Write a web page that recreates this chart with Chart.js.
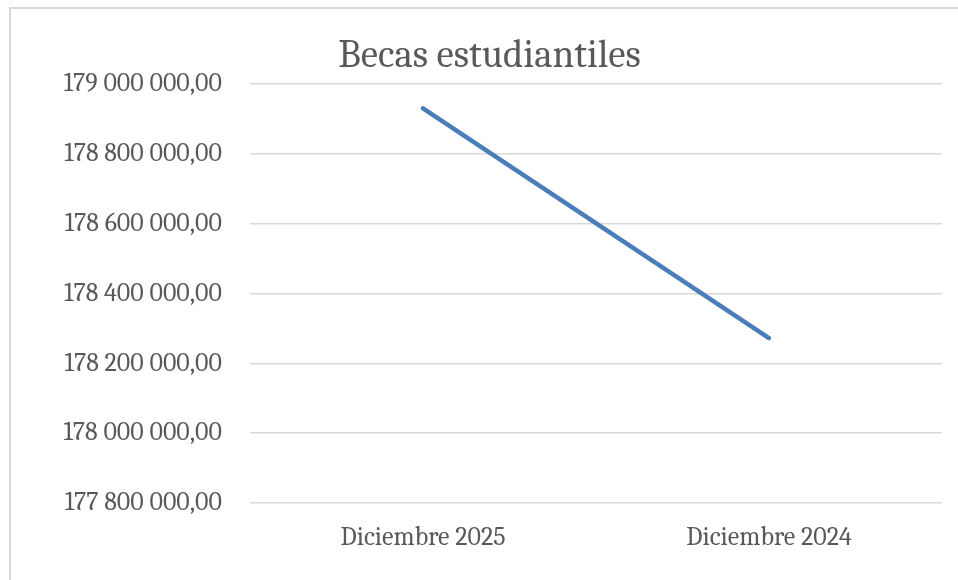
<!DOCTYPE html>
<html>
<head>
<meta charset="utf-8">
<script src="https://cdn.jsdelivr.net/npm/chart.js@4.4.1/dist/chart.umd.min.js"></script>
<style>
  html, body { margin: 0; padding: 0; background: #fff; overflow: hidden; }
  #marco { position: absolute; left: 9px; top: 7px; width: 1000px; height: 640px; border: 2px solid #d9d9d9; }
  #caja { position: absolute; left: 0; top: 0; width: 958px; height: 580px; }
</style>
</head>
<body>
<div id="marco"></div>
<div id="caja"><canvas id="grafica-becas"></canvas></div>
<script>
// Datos de la grafica
const meses = ['Diciembre 2025', 'Diciembre 2024'];
const montos = [178930000, 178272000];
const ticksY = [177800000, 178000000, 178200000, 178400000, 178600000, 178800000, 179000000];

// formato 179 000 000,00
function formatoMonto(v) {
  const partes = Number(v).toFixed(2).split('.');
  return partes[0].replace(/\B(?=(\d{3})+(?!\d))/g, ' ') + ',' + partes[1];
}

const fuente = "Cambria, serif";
const ctx = document.getElementById('grafica-becas').getContext('2d');

new Chart(ctx, {
  type: 'line',
  data: {
    labels: meses,
    datasets: [{
      label: 'Becas estudiantiles',
      data: montos,
      borderColor: '#4a7ebb',
      borderWidth: 4.5,
      borderCapStyle: 'round',
      pointRadius: 0,
      fill: false,
      tension: 0
    }]
  },
  options: {
    responsive: true,
    maintainAspectRatio: false,
    animation: false,
    layout: { padding: { left: 37, right: 16, top: 0, bottom: 0 } },
    plugins: {
      legend: { display: false },
      tooltip: { enabled: false },
      title: {
        display: true,
        text: 'Becas estudiantiles',
        color: '#595959',
        font: { family: fuente, size: 39, weight: 'normal' },
        padding: { top: 33, bottom: 4 }
      }
    },
    scales: {
      x: {
        offset: true,
        grid: { display: false, drawTicks: false },
        border: { display: false },
        ticks: { color: '#595959', padding: 19, font: { family: fuente, size: 26 } },
        afterFit: s => { s.height = 77; }
      },
      y: {
        min: ticksY[0],
        max: ticksY[ticksY.length - 1],
        afterBuildTicks: s => { s.ticks = ticksY.map(v => ({ value: v })); },
        grid: { color: '#d9d9d9', lineWidth: 1.5, drawTicks: false },
        border: { display: false },
        ticks: {
          color: '#595959',
          padding: 28,
          font: { family: fuente, size: 26 },
          callback: v => formatoMonto(v)
        },
        afterFit: s => { s.width = 213; }
      }
    }
  }
});
</script>
</body>
</html>
